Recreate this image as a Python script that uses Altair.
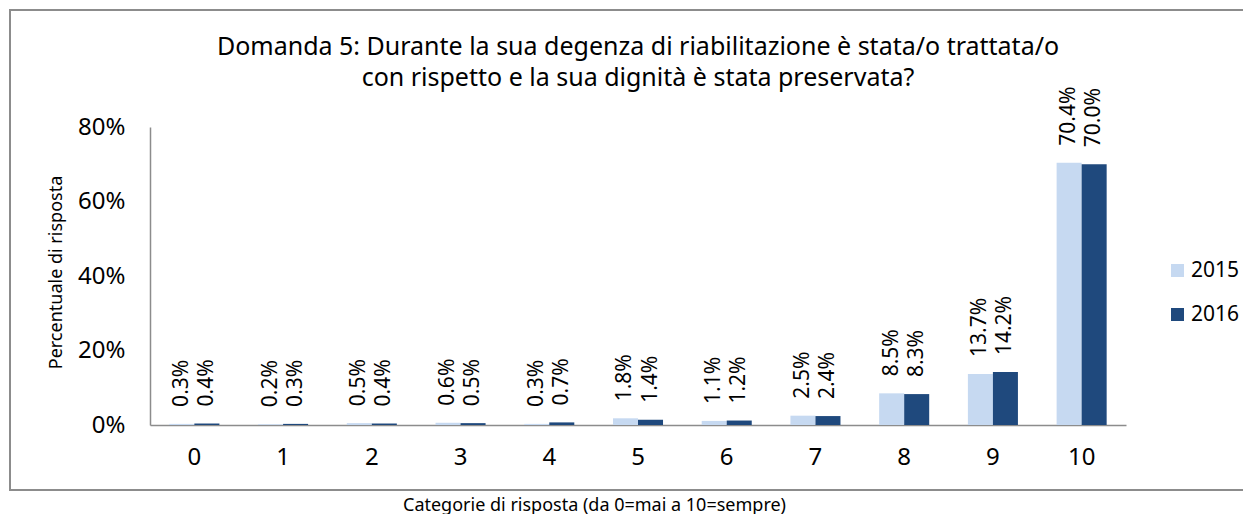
import altair as alt
import pandas as pd

categories = ["0", "1", "2", "3", "4", "5", "6", "7", "8", "9", "10"]
values_2015 = [0.3, 0.2, 0.5, 0.6, 0.3, 1.8, 1.1, 2.5, 8.5, 13.7, 70.4]
values_2016 = [0.4, 0.3, 0.4, 0.5, 0.7, 1.4, 1.2, 2.4, 8.3, 14.2, 70.0]
years = ["2015", "2016"]
colors = ["#C6D9F1", "#1F497D"]
title_lines = ["Domanda 5: Durante la sua degenza di riabilitazione è stata/o trattata/o",
               "con rispetto e la sua dignità è stata preservata?"]

rows = []
for c, a, b in zip(categories, values_2015, values_2016):
    rows.append({"cat": c, "anno": "2015", "val": a / 100, "lab": f"{a:.1f}%"})
    rows.append({"cat": c, "anno": "2016", "val": b / 100, "lab": f"{b:.1f}%"})
df = pd.DataFrame(rows)

FONT = "Noto Sans"
W, H = 976, 298

x = alt.X(
    "cat:N",
    sort=categories,
    scale=alt.Scale(paddingInner=0.436, paddingOuter=0.218),
    axis=alt.Axis(
        title="Categorie di risposta (da 0=mai a 10=sempre)",
        titleFont=FONT, titleFontSize=18, titleFontWeight="normal", titleColor="#000000",
        titleX=444, titleY=85, titleBaseline="alphabetic", titleAlign="center",
        labelAngle=0, labelFont=FONT, labelFontSize=24, labelColor="#000000",
        labelPadding=20, ticks=False, domainColor="#8c8c8c", domainWidth=1.5,
        grid=False,
    ),
)
y = alt.Y(
    "val:Q",
    scale=alt.Scale(domain=[0, 0.8]),
    axis=alt.Axis(
        title="Percentuale di risposta",
        titleFont=FONT, titleFontSize=18, titleFontWeight="normal", titleColor="#000000",
        titleX=-94, titleY=145, titleBaseline="middle", titleAlign="center",
        values=[0, 0.2, 0.4, 0.6, 0.8], format=".0%",
        labelFont=FONT, labelFontSize=24, labelColor="#000000", labelPadding=25,
        ticks=False, domainColor="#8c8c8c", domainWidth=1.5, grid=False,
    ),
)
color = alt.Color(
    "anno:N",
    scale=alt.Scale(domain=years, range=colors),
    legend=alt.Legend(
        title=None, orient="none", legendX=1017, legendY=133,
        symbolType="square", symbolSize=169, symbolStrokeWidth=0,
        labelFont=FONT, labelFontSize=21, labelColor="#000000",
        labelOffset=3, rowPadding=22,
    ),
)

frame = alt.Chart(pd.DataFrame({"k": [0]})).mark_rect(
    fill=None, stroke="#8c8c8c", strokeWidth=2
).encode(
    x=alt.value(-140), x2=alt.value(1095), y=alt.value(-117), y2=alt.value(363)
)

title = alt.Chart(pd.DataFrame({"k": [0]})).mark_text(
    text=title_lines, font=FONT, fontSize=25, color="#000000",
    align="center", baseline="middle", lineHeight=31
).encode(x=alt.value(W / 2), y=alt.value(-80))

bars = alt.Chart(df).mark_bar().encode(
    x=x, y=y, color=color, xOffset=alt.XOffset("anno:N", sort=years)
)

labels = alt.Chart(df).mark_text(
    angle=270, align="left", baseline="middle", dx=17, font=FONT, fontSize=21, color="#000000"
).encode(
    x=alt.X("cat:N", sort=categories), y="val:Q",
    xOffset=alt.XOffset("anno:N", sort=years), text="lab:N"
)

chart = alt.layer(frame, title, bars, labels).properties(
    width=W, height=H,
    autosize=alt.AutoSizeParams(type="none"),
    padding={"left": 142, "top": 119, "right": 117, "bottom": 89},
).configure(background="#ffffff").configure_view(stroke=None, strokeWidth=0)

chart.save("out.html", embed_options={"renderer": "svg", "actions": False})
